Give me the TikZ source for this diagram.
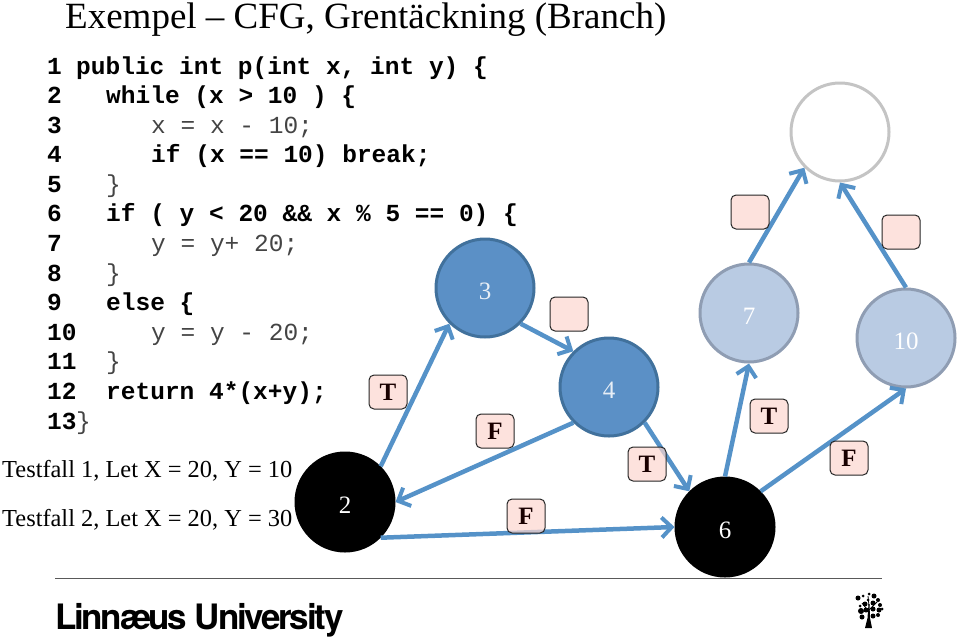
\documentclass[tikz,border=0pt]{standalone}
\usepackage{fontspec}
\usepackage{xcolor}
\setmainfont{Liberation Serif}
\setmonofont{Liberation Mono}
\newfontfamily\logofont[LetterSpace=-6.5]{TeX Gyre Heros}
\usetikzlibrary{arrows.meta}
\definecolor{edgeblue}{HTML}{5592C8}
\definecolor{darkfill}{HTML}{5B90C6}
\definecolor{darkline}{HTML}{41719C}
\definecolor{lightfill}{HTML}{B9CBE3}
\definecolor{lightline}{HTML}{8F9DB3}
\definecolor{boxfill}{HTML}{FCD5CE}
\definecolor{thincode}{HTML}{444444}
\tikzset{
  vertex/.style={circle, minimum size=98pt, inner sep=0pt, line width=3pt, text height=22pt, text depth=0pt, font=\fontsize{25}{25}\selectfont},
  visited/.style={vertex, fill=darkfill, draw=darkline, text=white!85!darkfill},
  executed/.style={vertex, fill=black, draw=black, text=white},
  pending/.style={vertex, fill=lightfill, draw=lightline, text=white},
  unseen/.style={vertex, fill=white, draw=black!23},
  edge/.style={draw=edgeblue, line width=4.5pt, -{Straight Barb[length=10pt,width=20pt,line width=4pt]}},
  outcome/.style={draw=black!85, rounded corners=5pt, fill=boxfill, fill opacity=.7, text opacity=1, draw opacity=1, line width=1pt, minimum width=38pt, minimum height=34pt, inner sep=0pt, font=\fontsize{25}{25}\selectfont\bfseries, text=black!90!red},
  boldline/.style={anchor=base west, inner sep=0pt, font=\fontsize{24.5}{24.5}\ttfamily\bfseries},
  thinline/.style={anchor=base west, inner sep=0pt, text=thincode, font=\fontsize{24.5}{24.5}\ttfamily},
  caseline/.style={anchor=base west, inner sep=0pt, font=\fontsize{24.4}{24.4}\selectfont}
}
\begin{document}
\begin{tikzpicture}[x=1pt, y=-1pt]
\useasboundingbox (0,0) rectangle (960,638);

\node[anchor=base west, inner sep=0pt, font=\fontsize{37}{37}\selectfont] (title) at (65,28) {Exempel -- CFG, Grentäckning (Branch)};

% line numbers
\foreach \n/\y in {1/74,2/103,3/133,4/162,5/192,6/221,7/251,8/281,9/310,10/340,11/369,12/399,13/429}
  \node[boldline] (num\n) at (47,\y) {\n};

\node[boldline] (code1) at (76,74) {public int p(int x, int y) \{};
\node[boldline] (code2) at (106,103) {while (x > 10 ) \{};
\node[thinline] (code3) at (151,133) {x = x - 10;};
\node[boldline] (code4) at (151,162) {if (x == 10) break;};
\node[thinline] (code5) at (106,192) {\}};
\node[boldline] (code6) at (106,221) {if ( y < 20 \&\& x \% 5 == 0) \{};
\node[thinline] (code7) at (151,251) {y = y+ 20;};
\node[thinline] (code8) at (106,281) {\}};
\node[boldline] (code9) at (106,310) {else \{};
\node[thinline] (code10) at (151,340) {y = y - 20;};
\node[thinline] (code11) at (106,369) {\}};
\node[boldline] (code12) at (106,399) {return 4*(x+y);};
\node[thinline] (code13) at (76,429) {\}};

\node[caseline] (case1) at (2,477) {Testfall 1, Let X = 20, Y = 10};
\node[caseline] (case2) at (2,526) {Testfall 2, Let X = 20, Y = 30};

\node[executed] (n2) at (345,502) {2};
\node[visited] (n3) at (485,288) {3};
\node[visited] (n4) at (609,387) {4};
\node[executed] (n6) at (725,527) {6};
\node[pending] (n7) at (749,313) {7};
\node[pending] (n10) at (906,338) {10};
\node[unseen] (nend) at (840,132) {};

\draw[edge] (n2.north east) -- (n3.south west);
\draw[edge] (n3.south east) -- (n4.north west);
\draw[edge] (n4.south west) -- (n2.east);
\draw[edge] (n2.south east) -- (n6.west);
\draw[edge] (n4.south east) -- (n6.north west);
\draw[edge] (n6.north) -- (n7.south);
\draw[edge] (n6.north east) -- (n10.south);
\draw[edge] (n7.north) -- (nend.south west);
\draw[edge] (n10.north) -- (nend.south);

\node[outcome] (l23) at (388,392) {T};
\node[outcome] (l34) at (569,314) {};
\node[outcome] (l42) at (495,431) {F};
\node[outcome] (l46) at (647,464) {T};
\node[outcome] (l26) at (526,516) {F};
\node[outcome] (l67) at (769,416) {T};
\node[outcome] (l610) at (849,458) {F};
\node[outcome] (l7e) at (750,212) {};
\node[outcome] (l10e) at (901,232) {};

% footer
\draw[black!65, line width=1pt] (55,578) -- (882,578);
\node[anchor=base west, inner sep=0pt, font=\logofont\bfseries\fontsize{35}{35}\selectfont] (logo) at (55,629) {Linnæus University};

% tree
\fill[black] (868.5,604) -- (869.5,604) -- (870,618) -- (872,628) -- (865,628) -- (867.5,618) -- cycle;
\draw[black, line width=.8pt] (869,612) -- (862,603) (869,610) -- (877,602) (869,606) -- (868,596);
\foreach \x/\y/\r in {869/594/1.5,874/596/2.5,863/596/1.5,858/598/2.5,878/600/2,868/600/1.5,860/606/1.5,865/604/2.5,873/603/2.5,880/605/2,882/609/1.5,861/611/3,866/610/2.5,873/609/2.5,879/610/2.5,862/617/2.5,873/616/2.5,878/615/2}
  \fill[black] (\x,\y) circle (\r pt);
\end{tikzpicture}
\end{document}
